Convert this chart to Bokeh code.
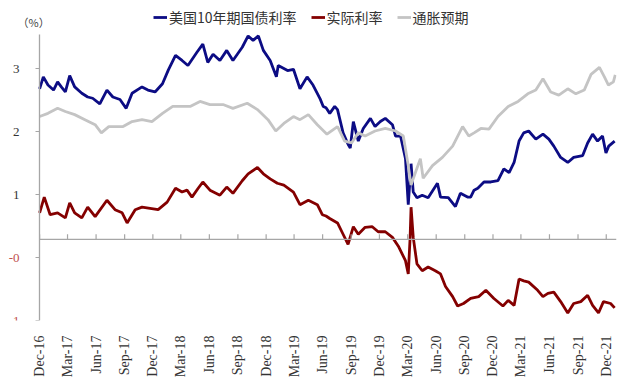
import pandas as pd
from bokeh.plotting import figure
from bokeh.models import (Range1d, FixedTicker, LinearAxis, Legend, Label,
                          LegendItem, DatetimeTickFormatter)
from bokeh.embed import file_html
from bokeh.resources import INLINE
import math

# ---------------- data ----------------
tick_labels = ["Dec-16", "Mar-17", "Jun-17", "Sep-17", "Dec-17", "Mar-18", "Jun-18",
               "Sep-18", "Dec-18", "Mar-19", "Jun-19", "Sep-19", "Dec-19", "Mar-20",
               "Jun-20", "Sep-20", "Dec-20", "Mar-21", "Jun-21", "Sep-21", "Dec-21"]

y_pos_ticks = [1, 2, 3]
y_neg_ticks = [-1, 0]
y_neg_labels = {-1: "-1", 0: "-0"}
unit_label = "（%）"

series_names = ["美国10年期国债利率", "实际利率", "通胀预期"]

us10y_dates = ["2016-12-01", "2016-12-13", "2016-12-28", "2017-01-15", "2017-01-28", "2017-02-09",
               "2017-02-22", "2017-03-08", "2017-03-24", "2017-04-16", "2017-05-05", "2017-05-21",
               "2017-06-13", "2017-07-06", "2017-07-25", "2017-08-17", "2017-09-06", "2017-09-25",
               "2017-10-27", "2017-11-15", "2017-12-08", "2018-01-01", "2018-01-20", "2018-02-12",
               "2018-03-05", "2018-03-24", "2018-04-22", "2018-05-11", "2018-05-27", "2018-06-13",
               "2018-07-05", "2018-07-27", "2018-08-16", "2018-09-15", "2018-10-04", "2018-10-20",
               "2018-11-06", "2018-11-22", "2018-12-14", "2019-01-03", "2019-01-09", "2019-02-08",
               "2019-02-27", "2019-03-20", "2019-04-12", "2019-05-01", "2019-05-24", "2019-06-03",
               "2019-06-12", "2019-06-24", "2019-07-10", "2019-07-19", "2019-08-06", "2019-08-22",
               "2019-08-29", "2019-09-08", "2019-09-24", "2019-10-10", "2019-11-02", "2019-11-17",
               "2019-12-04", "2019-12-20", "2020-01-12", "2020-01-22", "2020-02-07", "2020-02-23",
               "2020-03-03", "2020-03-12", "2020-03-19", "2020-03-31", "2020-04-17", "2020-05-06",
               "2020-06-05", "2020-06-15", "2020-07-10", "2020-08-02", "2020-08-18", "2020-09-10",
               "2020-09-20", "2020-10-01", "2020-10-13", "2020-11-02", "2020-11-24", "2020-12-17",
               "2021-01-05", "2021-01-22", "2021-02-07", "2021-02-23", "2021-03-10", "2021-03-26",
               "2021-04-18", "2021-05-11", "2021-05-30", "2021-06-15", "2021-07-07", "2021-07-30",
               "2021-08-18", "2021-09-16", "2021-10-02", "2021-10-18", "2021-11-03", "2021-11-19",
               "2021-11-30", "2021-12-09", "2021-12-28"]
us10y_vals = [2.68, 2.87, 2.74, 2.66, 2.79, 2.71,
              2.63, 2.89, 2.71, 2.61, 2.55, 2.53,
              2.44, 2.66, 2.55, 2.51, 2.37, 2.61,
              2.71, 2.66, 2.63, 2.76, 2.98, 3.21,
              3.13, 3.05, 3.26, 3.39, 3.10, 3.23,
              3.13, 3.29, 3.13, 3.34, 3.52, 3.45,
              3.52, 3.29, 3.13, 2.87, 3.05, 2.97,
              2.99, 2.68, 2.87, 2.74, 2.52, 2.40,
              2.38, 2.29, 2.40, 2.35, 1.98, 1.80,
              1.74, 2.16, 1.85, 2.05, 2.21, 2.08,
              2.16, 2.21, 2.11, 1.93, 1.93, 1.57,
              0.84, 1.49, 1.04, 0.95, 0.99, 0.95,
              1.18, 0.96, 0.95, 0.81, 1.02, 0.96,
              0.96, 1.07, 1.10, 1.20, 1.20, 1.22,
              1.41, 1.35, 1.51, 1.85, 1.98, 2.01,
              1.88, 1.96, 1.88, 1.77, 1.59, 1.51,
              1.59, 1.62, 1.82, 1.96, 1.85, 1.93,
              1.66, 1.77, 1.85]

real_dates = ["2016-12-01", "2016-12-16", "2017-01-04", "2017-01-28", "2017-02-22", "2017-03-08",
              "2017-03-24", "2017-04-16", "2017-05-05", "2017-05-29", "2017-07-06", "2017-08-01",
              "2017-08-24", "2017-09-09", "2017-10-05", "2017-10-27", "2017-11-22", "2017-12-18",
              "2018-01-16", "2018-02-12", "2018-03-05", "2018-03-21", "2018-04-06", "2018-04-26",
              "2018-05-11", "2018-06-03", "2018-07-05", "2018-07-27", "2018-08-16", "2018-09-15",
              "2018-10-04", "2018-11-03", "2018-11-22", "2018-12-14", "2019-01-06", "2019-01-27",
              "2019-02-27", "2019-03-20", "2019-04-16", "2019-05-15", "2019-05-31", "2019-06-12",
              "2019-06-24", "2019-07-19", "2019-08-06", "2019-08-22", "2019-09-08", "2019-09-24",
              "2019-10-16", "2019-11-08", "2019-11-27", "2019-12-20", "2020-01-12", "2020-01-31",
              "2020-02-23", "2020-03-03", "2020-03-09", "2020-03-12", "2020-03-19", "2020-03-31",
              "2020-04-17", "2020-05-06", "2020-05-29", "2020-06-15", "2020-07-01", "2020-07-24",
              "2020-08-09", "2020-08-28", "2020-09-20", "2020-10-16", "2020-11-08", "2020-12-04",
              "2021-01-02", "2021-01-19", "2021-02-07", "2021-02-23", "2021-03-10", "2021-03-26",
              "2021-04-24", "2021-05-11", "2021-05-27", "2021-06-15", "2021-07-07", "2021-07-30",
              "2021-08-18", "2021-09-10", "2021-10-02", "2021-10-18", "2021-11-06", "2021-11-22",
              "2021-12-15", "2021-12-28"]
real_vals = [0.71, 0.96, 0.68, 0.71, 0.63, 0.87,
             0.71, 0.63, 0.80, 0.65, 0.91, 0.76,
             0.71, 0.55, 0.76, 0.80, 0.78, 0.76,
             0.88, 1.10, 1.04, 1.07, 0.96, 1.10,
             1.20, 1.07, 0.99, 1.12, 1.02, 1.22,
             1.33, 1.43, 1.33, 1.25, 1.18, 1.15,
             1.04, 0.84, 0.91, 0.84, 0.68, 0.66,
             0.62, 0.55, 0.37, 0.21, 0.49, 0.37,
             0.48, 0.49, 0.41, 0.41, 0.32, 0.18,
             -0.05, -0.26, 0.32, 0.80, 0.32, -0.10,
             -0.21, -0.15, -0.21, -0.26, -0.46, -0.62,
             -0.77, -0.73, -0.65, -0.62, -0.52, -0.65,
             -0.77, -0.68, -0.76, -0.34, -0.37, -0.39,
             -0.52, -0.62, -0.57, -0.55, -0.70, -0.88,
             -0.73, -0.70, -0.60, -0.76, -0.88, -0.70,
             -0.73, -0.80]

infl_dates = ["2016-12-01", "2016-12-28", "2017-01-28", "2017-02-22", "2017-03-24", "2017-04-26",
              "2017-05-29", "2017-06-18", "2017-07-12", "2017-08-27", "2017-09-25", "2017-10-27",
              "2017-11-28", "2018-01-01", "2018-02-03", "2018-03-05", "2018-03-31", "2018-05-02",
              "2018-06-03", "2018-07-15", "2018-08-16", "2018-10-01", "2018-11-03", "2018-12-07",
              "2019-01-01", "2019-01-27", "2019-02-27", "2019-03-20", "2019-04-16", "2019-05-15",
              "2019-06-15", "2019-07-19", "2019-08-11", "2019-09-02", "2019-09-24", "2019-10-16",
              "2019-11-17", "2019-12-20", "2020-01-22", "2020-02-16", "2020-03-03", "2020-03-12",
              "2020-03-26", "2020-04-11", "2020-04-20", "2020-05-20", "2020-06-21", "2020-07-24",
              "2020-08-25", "2020-09-14", "2020-10-01", "2020-10-23", "2020-11-18", "2020-12-17",
              "2021-01-19", "2021-02-20", "2021-03-23", "2021-04-18", "2021-05-11", "2021-06-05",
              "2021-07-01", "2021-07-30", "2021-08-25", "2021-09-21", "2021-10-13", "2021-11-09",
              "2021-11-25", "2021-12-08", "2021-12-24", "2021-12-30"]
infl_vals = [2.24, 2.29, 2.37, 2.32, 2.27, 2.19,
             2.11, 1.98, 2.08, 2.08, 2.16, 2.19,
             2.16, 2.29, 2.40, 2.40, 2.40, 2.48,
             2.43, 2.43, 2.37, 2.45, 2.35, 2.19,
             2.01, 2.13, 2.24, 2.19, 2.27, 2.11,
             1.96, 2.08, 1.85, 1.82, 1.98, 1.93,
             2.01, 2.05, 2.01, 1.93, 1.46, 1.15,
             1.35, 1.57, 1.26, 1.46, 1.59, 1.77,
             2.08, 1.93, 1.98, 2.05, 2.04, 2.24,
             2.40, 2.48, 2.60, 2.66, 2.84, 2.63,
             2.58, 2.68, 2.60, 2.66, 2.91, 3.02,
             2.87, 2.74, 2.79, 2.90]

x_start = "2016-12-01"
x_end = "2022-01-03"
y_min, y_max = -1, 3.55
axis_cross = 0.29

# ---------------- layout / styles ----------------
LEFT_PAD_DAYS = 126      # room left of the y axis (inside the frame)
TOP_PAD = 0.485          # room above the y axis top (inside the frame)
BLUE = "#0c0c84"
RED = "#840000"
GRAY = "#c4c4c4"
AXIS = "#a6a6a6"
NEG = "#c0504d"
TXT = "#333333"
SERIF = "Liberation Serif"
CJK = "Noto Sans CJK SC"


def ms(d):
    return pd.Timestamp(d).value / 1e6


x_lo = pd.Timestamp(x_start) - pd.Timedelta(days=LEFT_PAD_DAYS)

p = figure(width=620, height=380, x_axis_type="datetime",
           output_backend="svg", toolbar_location=None,
           x_range=Range1d(ms(x_lo), ms(x_end)),
           y_range=Range1d(y_min, y_max + TOP_PAD),
           min_border_left=0, min_border_top=3, min_border_right=4,
           min_border_bottom=54)
p.outline_line_color = None
p.grid.visible = False
p.background_fill_color = "white"

r_blue = p.line(pd.to_datetime(us10y_dates), us10y_vals, color=BLUE, line_width=2.8)
r_red = p.line(pd.to_datetime(real_dates), real_vals, color=RED, line_width=2.8)
r_gray = p.line(pd.to_datetime(infl_dates), infl_vals, color=GRAY, line_width=2.8)

tick_dates = [pd.to_datetime(t, format="%b-%y") for t in tick_labels]
tick_ms = [ms(t) for t in tick_dates]
fmt = DatetimeTickFormatter(days="%b-%y", months="%b-%y", years="%b-%y")

# bottom axis: only the rotated date labels
xa = p.xaxis[0]
xa.ticker = FixedTicker(ticks=tick_ms)
xa.formatter = fmt
xa.axis_line_color = None
xa.major_tick_line_color = None
xa.minor_tick_line_color = None
xa.major_label_orientation = math.pi / 2
xa.major_label_standoff = 9
xa.major_label_text_font = SERIF
xa.major_label_text_font_size = "14px"
xa.major_label_text_color = TXT

# horizontal axis line crossing the y axis, with short upward ticks
tick_len = 5 / 64.0
p.segment(x0=[ms(x_start)], y0=[axis_cross], x1=[ms(x_end)], y1=[axis_cross],
          line_color=AXIS, line_width=1.3)
p.segment(x0=tick_ms, y0=[axis_cross] * len(tick_ms),
          x1=tick_ms, y1=[axis_cross + tick_len] * len(tick_ms),
          line_color=AXIS, line_width=1.2)

# left axis (positive values), drawn at the first date
ya = p.yaxis[0]
ya.fixed_location = ms(x_start)
ya.bounds = (y_min, y_max)
ya.ticker = FixedTicker(ticks=y_pos_ticks)
ya.axis_line_color = AXIS
ya.axis_line_width = 1.3
ya.major_tick_line_color = AXIS
ya.major_tick_in = 0
ya.major_tick_out = 4
ya.minor_tick_line_color = None
ya.major_label_standoff = 16
ya.major_label_text_font = SERIF
ya.major_label_text_font_size = "13px"
ya.major_label_text_color = TXT

# negative tick labels in red
ya2 = LinearAxis(fixed_location=ms(x_start), ticker=FixedTicker(ticks=y_neg_ticks),
                 major_label_overrides=y_neg_labels, axis_line_color=None,
                 major_tick_line_color=AXIS, major_tick_in=0, major_tick_out=4,
                 minor_tick_line_color=None, major_label_standoff=16,
                 major_label_text_font=SERIF, major_label_text_font_size="13px",
                 major_label_text_color=NEG)
p.add_layout(ya2, "left")

# unit label above the y axis
p.add_layout(Label(x=ms(x_start), y=y_max, text=unit_label, x_offset=-22, y_offset=12,
                   text_align="left", text_baseline="middle",
                   text_color="#444444", text_font=CJK, text_font_size="11px"))

legend = Legend(items=[LegendItem(label=series_names[0], renderers=[r_blue]),
                       LegendItem(label=series_names[1], renderers=[r_red]),
                       LegendItem(label=series_names[2], renderers=[r_gray])],
                orientation="horizontal", location=(153, 293),
                border_line_color=None, background_fill_alpha=0,
                glyph_width=14, glyph_height=12, label_standoff=2, spacing=14,
                padding=0, margin=0, label_text_font=CJK,
                label_text_font_size="14px", label_text_color=TXT)
p.add_layout(legend)

open("out.html", "w").write(file_html(p, INLINE))
